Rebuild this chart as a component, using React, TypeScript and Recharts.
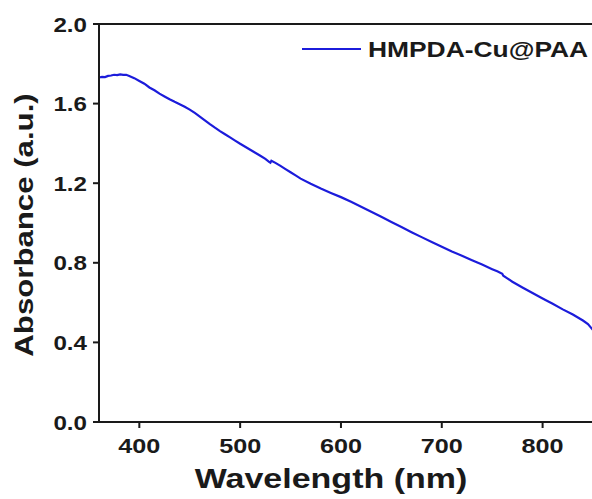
import { Legend, Line, LineChart, ReferenceLine, XAxis, YAxis } from "recharts";

const wavelength = [
  360, 363, 366, 369, 372, 375, 378, 381, 384, 387, 390, 395, 400, 405, 410, 415, 420, 425, 430, 435,
  440, 445, 450, 455, 460, 465, 470, 475, 480, 485, 490, 495, 500, 505, 510, 515, 520, 525, 529, 530,
  531, 535, 540, 545, 550, 555, 560, 570, 580, 590, 600, 610, 620, 630, 640, 650, 660, 670, 680, 690,
  700, 710, 720, 730, 740, 750, 755, 760, 761, 765, 770, 780, 790, 800, 810, 820, 830, 840, 845, 850,
];

const absorbance = [
  1.731, 1.734, 1.733, 1.739, 1.741, 1.745, 1.743, 1.747, 1.744, 1.745, 1.739, 1.728, 1.714, 1.7, 1.681,
  1.667, 1.65, 1.636, 1.622, 1.609, 1.597, 1.584, 1.57, 1.553, 1.535, 1.516, 1.497, 1.479, 1.462, 1.446,
  1.43, 1.414, 1.398, 1.383, 1.368, 1.353, 1.338, 1.322, 1.306, 1.303, 1.313, 1.302, 1.287, 1.271, 1.255,
  1.239, 1.223, 1.197, 1.173, 1.151, 1.13, 1.107, 1.082, 1.057, 1.031, 1.005, 0.98, 0.954, 0.929, 0.905,
  0.881, 0.857, 0.836, 0.813, 0.791, 0.768, 0.757, 0.745, 0.735, 0.722, 0.705, 0.676, 0.648, 0.621,
  0.594, 0.566, 0.54, 0.51, 0.492, 0.462,
];

const xTicks = [400, 500, 600, 700, 800];
const yTicks = [0, 0.4, 0.8, 1.2, 1.6, 2.0];
const seriesName = "HMPDA-Cu@PAA";

const data = wavelength.map((w, i) => ({ w, a: absorbance[i] }));

const FONT = "'Liberation Sans', Arial, sans-serif";
const INK = "#1a1a1a";
const BLUE = "#1c1cdb";

// the original text is a bit wider than Arial bold, so stretch it sideways
function XTick({ x, y, payload }: any) {
  return (
    <text transform={`translate(${x},${y + 15}) scale(1.2,1)`} textAnchor="middle" fontFamily={FONT} fontWeight="bold" fontSize={21} fill={INK}>
      {payload.value}
    </text>
  );
}

function YTick({ x, y, payload }: any) {
  return (
    <text transform={`translate(${x},${y + 7.5}) scale(1.15,1)`} textAnchor="end" fontFamily={FONT} fontWeight="bold" fontSize={21} fill={INK}>
      {Number(payload.value).toFixed(1)}
    </text>
  );
}

function LegendBox() {
  return (
    <svg width={296} height={30}>
      <line x1={6} x2={65} y1={15} y2={15} stroke={BLUE} strokeWidth={2} />
      <text transform="translate(72,23) scale(1.2,1)" fontFamily={FONT} fontWeight="bold" fontSize={22} fill={INK}>
        {seriesName}
      </text>
    </svg>
  );
}

export default function App() {
  return (
    <div style={{ position: "absolute", left: 0, top: 0, width: 592, height: 499, background: "#fff" }}>
      <LineChart width={592} height={499} data={data} margin={{ top: 24, right: 0, left: 0, bottom: 0 }}>
        <XAxis
          dataKey="w"
          type="number"
          domain={[360, 849]}
          allowDataOverflow
          ticks={xTicks}
          height={77}
          axisLine={{ stroke: INK, strokeWidth: 2 }}
          tickLine={{ stroke: INK, strokeWidth: 2 }}
          tickSize={6}
          tickMargin={10}
          tick={<XTick />}
          label={{
            content: () => (
              <text transform="translate(331,488) scale(1.26,1)" textAnchor="middle" fontFamily={FONT} fontWeight="bold" fontSize={27} fill={INK}>
                Wavelength (nm)
              </text>
            ),
          }}
        />
        <YAxis
          type="number"
          domain={[0, 2]}
          ticks={yTicks}
          width={99}
          axisLine={{ stroke: INK, strokeWidth: 2 }}
          tickLine={{ stroke: INK, strokeWidth: 2 }}
          tickSize={6}
          tickMargin={6}
          tick={<YTick />}
          label={{
            content: () => (
              <text transform="translate(33,225) rotate(-90) scale(1.2,1)" textAnchor="middle" fontFamily={FONT} fontWeight="bold" fontSize={26} fill={INK}>
                Absorbance (a.u.)
              </text>
            ),
          }}
        />
        <ReferenceLine y={2} stroke={INK} strokeWidth={2} />
        <Legend
          layout="horizontal"
          verticalAlign="middle"
          align="center"
          content={() => <LegendBox />}
          wrapperStyle={{ position: "absolute", left: 296, top: 34, width: 296, height: 30 }}
        />
        <Line
          type="linear"
          dataKey="a"
          name={seriesName}
          stroke={BLUE}
          strokeWidth={2.2}
          dot={false}
          isAnimationActive={false}
        />
      </LineChart>
    </div>
  );
}
